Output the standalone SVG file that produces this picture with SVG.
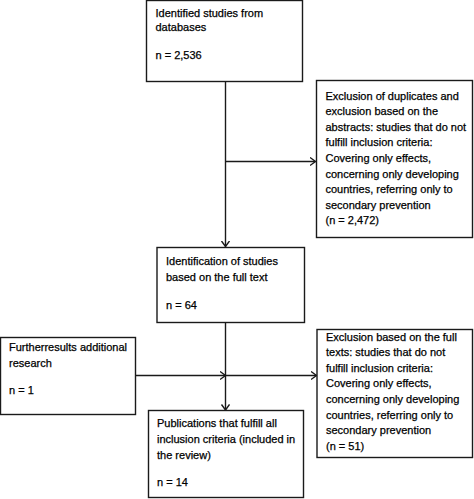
<svg xmlns="http://www.w3.org/2000/svg" width="474" height="499" viewBox="0 0 474 499">
<style>
.box{fill:#fff;stroke:#1a1a1a;stroke-width:1.4}
.t{font-family:"Liberation Sans",Arial,sans-serif;font-size:11px;fill:#000;stroke:#000;stroke-width:0.25}
.c{fill:none;stroke:#1a1a1a;stroke-width:1.4}
</style>
<defs>
<marker id="ah" markerUnits="userSpaceOnUse" markerWidth="10" markerHeight="10" refX="6" refY="4.5" orient="auto">
<path d="M0.5,0.5 L6,4.5 L0.5,8.5" fill="none" stroke="#1a1a1a" stroke-width="1.4"/>
</marker>
</defs>
<rect width="474" height="499" fill="#fff"/>
<g id="connectors">
<line class="c" x1="225.5" y1="81.5" x2="225.5" y2="246.5" marker-end="url(#ah)"/>
<line class="c" x1="225.5" y1="161.5" x2="315.5" y2="161.5" marker-end="url(#ah)"/>
<line class="c" x1="225.5" y1="322.5" x2="225.5" y2="410" marker-end="url(#ah)"/>
<line class="c" x1="135.5" y1="375.5" x2="225.5" y2="375.5" marker-end="url(#ah)"/>
<line class="c" x1="225.5" y1="375.5" x2="316.5" y2="375.5" marker-end="url(#ah)"/>
</g>
<g id="n1">
<rect class="box" x="146.5" y="0.5" width="156" height="81"/>
<text class="t" x="155.5" y="17">Identified studies from</text>
<text class="t" x="155.5" y="31">databases</text>
<text class="t" x="155.5" y="59">n = 2,536</text>
</g>
<g id="n2">
<rect class="box" x="316.5" y="80.5" width="156" height="157"/>
<text class="t" x="325.5" y="99.5">Exclusion of duplicates and</text>
<text class="t" x="325.5" y="115.1">exclusion based on the</text>
<text class="t" x="325.5" y="130.7">abstracts: studies that do not</text>
<text class="t" x="325.5" y="146.3">fulfill inclusion criteria:</text>
<text class="t" x="325.5" y="161.9">Covering only effects,</text>
<text class="t" x="325.5" y="177.5">concerning only developing</text>
<text class="t" x="325.5" y="193.1">countries, referring only to</text>
<text class="t" x="325.5" y="208.7">secondary prevention</text>
<text class="t" x="325.5" y="224.3">(n = 2,472)</text>
</g>
<g id="n3">
<rect class="box" x="157" y="247.5" width="147.5" height="75"/>
<text class="t" x="166" y="264.5">Identification of studies</text>
<text class="t" x="166" y="280.5">based on the full text</text>
<text class="t" x="166" y="308.5">n = 64</text>
</g>
<g id="n4">
<rect class="box" x="0.5" y="337.5" width="135" height="77"/>
<text class="t" x="9" y="350.5">Furtherresults additional</text>
<text class="t" x="9" y="366.5">research</text>
<text class="t" x="9" y="393.5">n = 1</text>
</g>
<g id="n5">
<rect class="box" x="317" y="329.5" width="155.5" height="128"/>
<text class="t" x="326" y="340.5">Exclusion based on the full</text>
<text class="t" x="326" y="356.1">texts: studies that do not</text>
<text class="t" x="326" y="371.7">fulfill inclusion criteria:</text>
<text class="t" x="326" y="387.3">Covering only effects,</text>
<text class="t" x="326" y="402.9">concerning only developing</text>
<text class="t" x="326" y="418.5">countries, referring only to</text>
<text class="t" x="326" y="434.1">secondary prevention</text>
<text class="t" x="326" y="449.7">(n = 51)</text>
</g>
<g id="n6">
<rect class="box" x="148.5" y="410.5" width="155" height="87"/>
<text class="t" x="157" y="426.5">Publications that fulfill all</text>
<text class="t" x="157" y="442.5">inclusion criteria (included in</text>
<text class="t" x="157" y="458.5">the review)</text>
<text class="t" x="157" y="486">n = 14</text>
</g>
</svg>
